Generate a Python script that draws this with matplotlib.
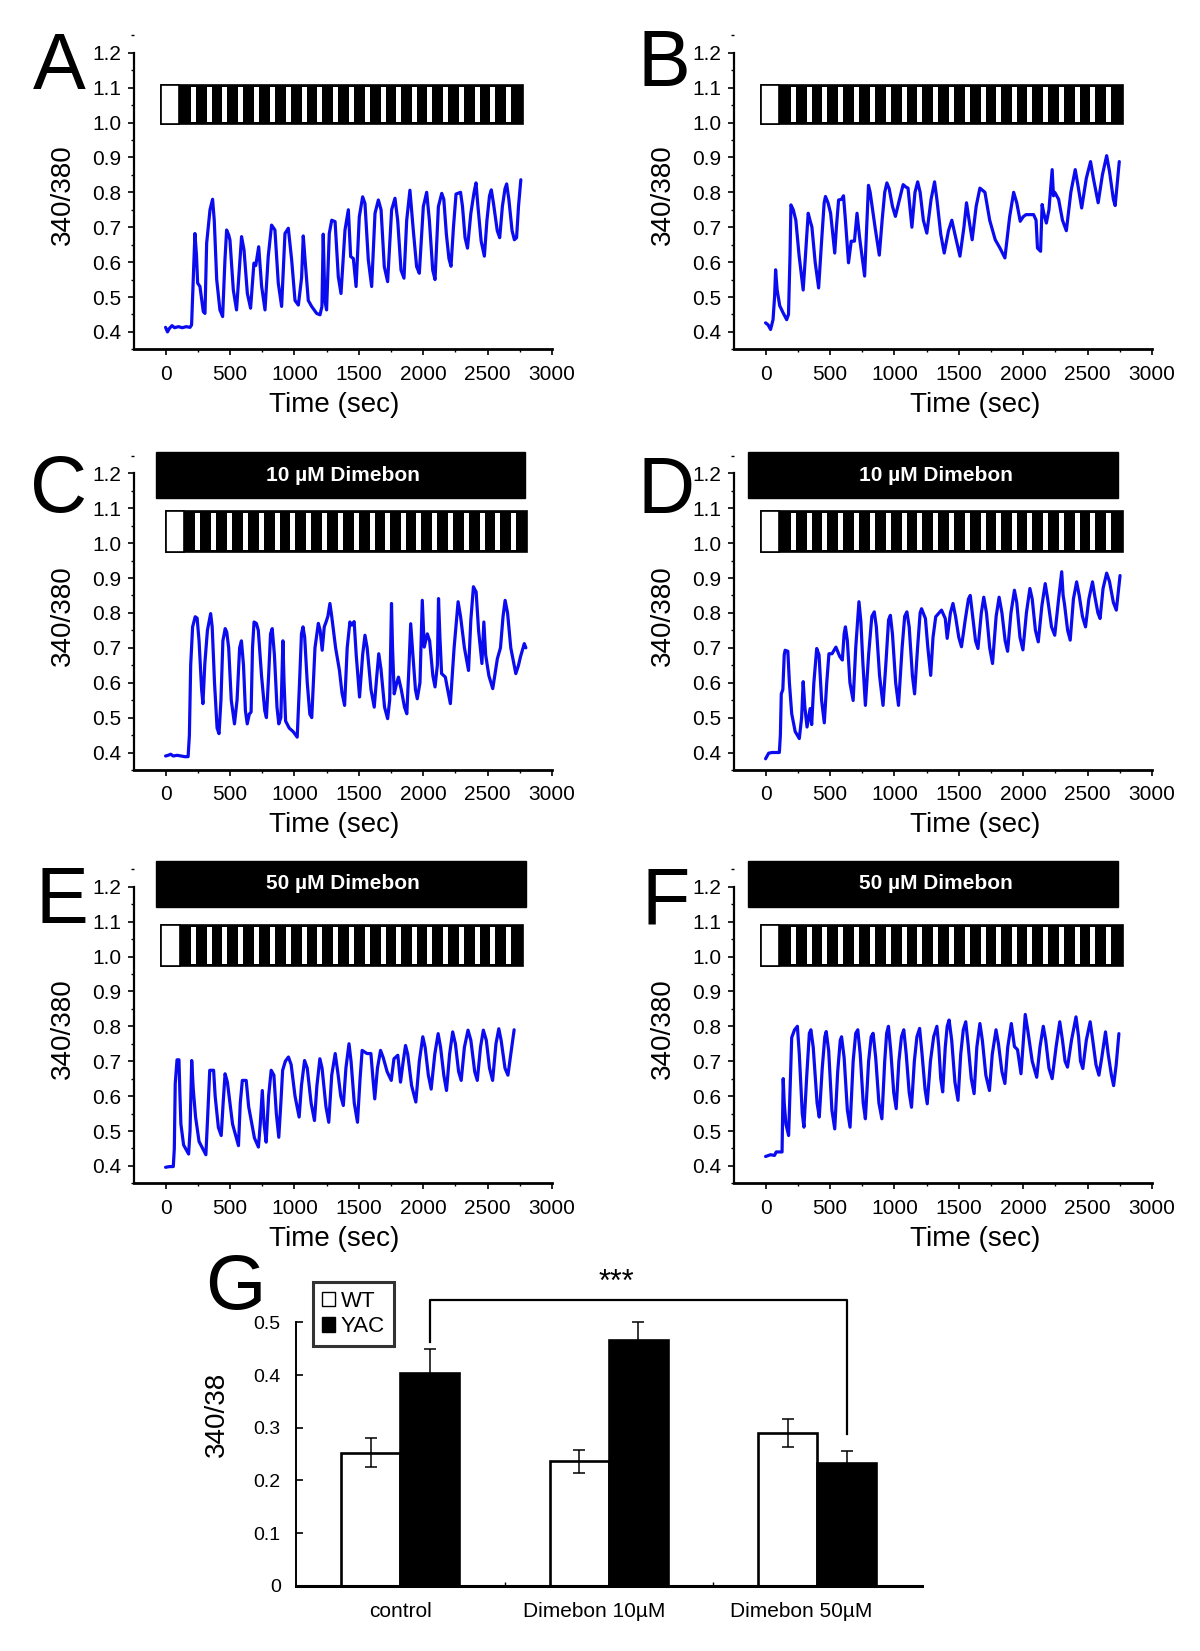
import matplotlib
matplotlib.use('Agg')
import matplotlib.pyplot as plt
from matplotlib.patches import Rectangle, Patch
from matplotlib.ticker import MultipleLocator, FormatStrFormatter

plt.rcParams['font.family'] = ['Liberation Sans', 'DejaVu Sans']

# ---------------- data (time in s, 340/380 ratio) ----------------
trace_a = [(0, .413), (15, .40), (30, .41), (50, .418), (70, .412), (100, .415), (130, .412), (160, .415),
           (190, .413), (202, .42), (215, .55), (228, .682), (240, .62), (249, .54), (267, .53), (293, .458),
           (306, .453), (319, .654), (345, .75), (365, .78), (378, .72), (397, .55), (422, .463), (443, .444),
           (461, .606), (474, .692), (490, .678), (500, .663), (526, .52), (551, .463), (572, .577), (590, .673),
           (609, .635), (635, .51), (660, .468), (686, .597), (700, .59), (723, .644), (746, .53), (772, .463),
           (797, .616), (823, .706), (849, .692), (875, .54), (901, .473), (927, .682), (953, .697), (979, .606),
           (1005, .49), (1031, .477), (1056, .555), (1069, .675), (1085, .597), (1108, .49), (1134, .473),
           (1173, .453), (1199, .449), (1214, .473), (1224, .68), (1237, .49), (1250, .463), (1271, .682),
           (1290, .72), (1316, .716), (1341, .558), (1362, .51), (1393, .692), (1419, .75), (1437, .616),
           (1458, .61), (1479, .53), (1504, .73), (1530, .787), (1548, .768), (1574, .606), (1600, .53),
           (1626, .74), (1652, .778), (1673, .75), (1698, .587), (1724, .544), (1755, .75), (1781, .783),
           (1802, .72), (1828, .577), (1851, .554), (1872, .72), (1897, .806), (1923, .692), (1949, .587),
           (1970, .568), (2001, .759), (2027, .80), (2048, .72), (2074, .577), (2092, .55), (2118, .759),
           (2144, .797), (2160, .78), (2180, .68), (2200, .61), (2216, .588), (2235, .70), (2255, .795),
           (2290, .80), (2305, .76), (2325, .67), (2344, .64), (2370, .74), (2395, .80), (2410, .827),
           (2425, .76), (2450, .66), (2475, .617), (2495, .72), (2515, .79), (2529, .807), (2545, .77),
           (2575, .69), (2594, .67), (2615, .76), (2635, .81), (2648, .824), (2665, .78), (2690, .69),
           (2708, .664), (2725, .67), (2740, .76), (2758, .836)]

trace_b = [(0, .426), (20, .42), (39, .407), (58, .435), (70, .50), (78, .578), (90, .52), (110, .475),
           (137, .454), (164, .435), (178, .45), (190, .62), (197, .764), (215, .75), (235, .72), (260, .62),
           (292, .52), (310, .62), (331, .74), (345, .72), (360, .70), (385, .60), (412, .526), (435, .66),
           (455, .77), (465, .788), (485, .77), (505, .74), (537, .626), (550, .70), (567, .778), (590, .78),
           (605, .79), (620, .72), (644, .598), (665, .66), (690, .66), (710, .74), (730, .67), (769, .56),
           (785, .70), (799, .82), (812, .80), (829, .755), (850, .70), (883, .62), (905, .72), (925, .80),
           (942, .827), (960, .81), (985, .76), (1008, .731), (1040, .78), (1068, .822), (1090, .815),
           (1106, .812), (1136, .70), (1160, .80), (1181, .83), (1200, .80), (1225, .72), (1252, .683),
           (1285, .78), (1312, .83), (1330, .78), (1360, .68), (1387, .626), (1420, .69), (1446, .72),
           (1470, .68), (1509, .617), (1540, .70), (1560, .77), (1580, .72), (1604, .664), (1635, .76),
           (1664, .812), (1703, .80), (1740, .72), (1783, .664), (1820, .64), (1858, .612), (1895, .73),
           (1926, .80), (1950, .77), (1977, .717), (2000, .73), (2022, .736), (2081, .736), (2100, .72),
           (2111, .64), (2135, .631), (2147, .765), (2160, .74), (2180, .712), (2200, .75), (2225, .865),
           (2235, .79), (2245, .80), (2275, .78), (2305, .72), (2335, .69), (2370, .80), (2404, .865),
           (2425, .82), (2454, .755), (2490, .84), (2523, .888), (2545, .84), (2582, .77), (2615, .85),
           (2648, .905), (2670, .86), (2700, .78), (2714, .762), (2746, .888)]

trace_c = [(0, .39), (20, .392), (40, .395), (60, .39), (90, .392), (120, .39), (150, .388), (175, .388),
           (185, .45), (195, .65), (210, .76), (230, .789), (245, .785), (260, .72), (280, .58), (290, .54),
           (305, .655), (325, .75), (350, .798), (362, .76), (380, .60), (400, .47), (415, .454), (430, .55),
           (445, .72), (463, .755), (475, .745), (490, .70), (510, .55), (535, .482), (555, .55), (575, .70),
           (589, .72), (605, .65), (620, .52), (634, .482), (650, .51), (664, .516), (675, .70), (687, .774),
           (705, .77), (720, .75), (745, .62), (770, .52), (783, .50), (800, .62), (815, .74), (828, .755),
           (845, .68), (865, .53), (879, .482), (895, .50), (911, .72), (920, .60), (932, .49), (960, .47),
           (990, .46), (1022, .444), (1040, .60), (1055, .74), (1067, .76), (1080, .73), (1100, .60),
           (1120, .51), (1135, .50), (1160, .70), (1186, .77), (1200, .75), (1216, .693), (1232, .76),
           (1246, .774), (1260, .79), (1276, .827), (1290, .79), (1320, .70), (1350, .635), (1370, .57),
           (1390, .535), (1410, .70), (1431, .774), (1445, .765), (1464, .775), (1480, .68), (1506, .559),
           (1530, .68), (1548, .736), (1565, .70), (1595, .58), (1620, .53), (1640, .62), (1655, .683),
           (1672, .64), (1700, .53), (1724, .497), (1740, .55), (1754, .827), (1762, .70), (1775, .568),
           (1795, .60), (1808, .616), (1830, .58), (1855, .53), (1873, .511), (1890, .65), (1903, .769),
           (1920, .68), (1940, .58), (1954, .554), (1975, .60), (1993, .836), (2008, .702), (2032, .74),
           (2050, .72), (2075, .62), (2092, .588), (2110, .65), (2119, .841), (2130, .73), (2143, .626),
           (2172, .616), (2190, .58), (2211, .54), (2240, .70), (2271, .832), (2290, .79), (2320, .70),
           (2352, .635), (2370, .78), (2390, .875), (2411, .86), (2430, .75), (2456, .655), (2471, .774),
           (2485, .68), (2510, .62), (2540, .583), (2576, .669), (2600, .70), (2620, .79), (2636, .836),
           (2655, .80), (2680, .70), (2719, .626), (2740, .65), (2755, .674), (2785, .712), (2797, .70)]

trace_d = [(0, .382), (24, .398), (50, .40), (80, .40), (107, .40), (115, .45), (122, .568), (134, .58),
           (145, .68), (152, .693), (173, .69), (185, .60), (203, .511), (230, .46), (262, .44), (280, .50),
           (292, .603), (305, .53), (322, .473), (346, .526), (358, .48), (375, .60), (397, .698), (415, .68),
           (435, .55), (456, .485), (475, .60), (492, .683), (516, .683), (546, .702), (576, .675), (596, .665),
           (610, .74), (620, .76), (635, .72), (655, .60), (680, .549), (700, .70), (725, .832), (740, .775),
           (755, .66), (775, .535), (800, .68), (825, .79), (844, .803), (860, .76), (885, .62), (912, .535),
           (935, .66), (955, .78), (969, .793), (985, .74), (1010, .60), (1032, .535), (1060, .70), (1080, .79),
           (1097, .803), (1115, .76), (1140, .62), (1157, .568), (1180, .70), (1200, .80), (1211, .812),
           (1241, .784), (1260, .70), (1282, .621), (1300, .73), (1321, .789), (1366, .808), (1395, .784),
           (1410, .727), (1435, .80), (1455, .827), (1475, .79), (1500, .73), (1521, .703), (1550, .78),
           (1575, .84), (1589, .85), (1605, .80), (1630, .72), (1649, .698), (1675, .80), (1694, .845),
           (1715, .80), (1740, .70), (1762, .655), (1790, .79), (1813, .845), (1835, .80), (1860, .72),
           (1879, .69), (1905, .80), (1932, .865), (1950, .83), (1975, .73), (1998, .694), (2025, .80),
           (2052, .87), (2070, .84), (2095, .75), (2117, .717), (2145, .82), (2171, .884), (2190, .84),
           (2220, .76), (2245, .736), (2275, .84), (2299, .918), (2310, .85), (2320, .827), (2345, .75),
           (2365, .722), (2390, .84), (2415, .889), (2435, .85), (2460, .79), (2484, .76), (2510, .84),
           (2538, .889), (2555, .85), (2580, .80), (2597, .784), (2620, .87), (2648, .914), (2670, .89),
           (2700, .83), (2723, .808), (2752, .907)]

trace_e = [(0, .396), (30, .398), (60, .398), (68, .45), (75, .635), (89, .704), (104, .704), (112, .60),
           (119, .52), (140, .46), (179, .434), (190, .50), (203, .702), (215, .62), (233, .54), (260, .47),
           (313, .432), (328, .55), (343, .674), (373, .674), (385, .60), (410, .51), (432, .487), (447, .58),
           (462, .664), (480, .64), (520, .52), (566, .458), (580, .58), (596, .645), (626, .645), (645, .57),
           (690, .48), (721, .454), (735, .52), (751, .616), (765, .52), (781, .468), (800, .60), (820, .674),
           (841, .66), (860, .55), (879, .482), (895, .58), (909, .674), (930, .70), (954, .712), (975, .69),
           (1005, .60), (1037, .54), (1055, .63), (1079, .702), (1100, .68), (1130, .58), (1156, .53),
           (1175, .63), (1198, .707), (1215, .68), (1245, .57), (1267, .525), (1290, .66), (1317, .722),
           (1340, .66), (1360, .60), (1380, .573), (1400, .68), (1424, .75), (1440, .70), (1465, .58),
           (1490, .525), (1510, .65), (1526, .731), (1564, .722), (1594, .722), (1610, .65), (1624, .592),
           (1645, .68), (1669, .731), (1690, .71), (1720, .67), (1752, .645), (1773, .707), (1803, .717),
           (1824, .64), (1845, .70), (1863, .745), (1880, .72), (1910, .63), (1943, .583), (1970, .70),
           (1997, .77), (2015, .74), (2040, .66), (2062, .62), (2090, .72), (2116, .779), (2135, .74),
           (2160, .66), (2181, .616), (2205, .72), (2229, .784), (2250, .75), (2275, .67), (2295, .645),
           (2320, .74), (2348, .789), (2370, .76), (2400, .67), (2420, .645), (2445, .74), (2467, .789),
           (2490, .76), (2515, .68), (2539, .645), (2565, .75), (2587, .793), (2605, .76), (2635, .68),
           (2658, .66), (2680, .72), (2706, .79)]

trace_f = [(0, .427), (39, .432), (69, .43), (83, .44), (128, .44), (137, .65), (145, .58), (158, .52),
           (179, .487), (190, .62), (203, .768), (225, .79), (247, .80), (262, .72), (285, .55), (298, .511),
           (320, .66), (340, .78), (352, .79), (370, .74), (400, .58), (417, .54), (440, .68), (460, .77),
           (471, .785), (490, .73), (515, .56), (537, .506), (560, .67), (580, .76), (590, .77), (610, .71),
           (635, .56), (656, .511), (680, .70), (700, .78), (716, .79), (735, .72), (758, .58), (775, .535),
           (800, .70), (820, .77), (835, .78), (855, .71), (880, .58), (903, .535), (925, .70), (940, .78),
           (954, .80), (972, .73), (995, .61), (1014, .564), (1035, .70), (1055, .77), (1073, .79),
           (1092, .72), (1115, .61), (1133, .568), (1155, .70), (1175, .77), (1196, .794), (1215, .72),
           (1238, .62), (1255, .578), (1280, .70), (1305, .77), (1330, .80), (1345, .74), (1360, .65),
           (1375, .612), (1395, .74), (1410, .80), (1425, .818), (1445, .76), (1470, .64), (1494, .588),
           (1515, .72), (1535, .79), (1554, .813), (1572, .75), (1597, .65), (1619, .607), (1640, .74),
           (1664, .808), (1683, .76), (1710, .66), (1738, .616), (1760, .72), (1789, .79), (1808, .75),
           (1835, .67), (1858, .636), (1880, .74), (1908, .808), (1932, .742), (1956, .733), (1983, .664),
           (2000, .75), (2016, .834), (2035, .79), (2070, .70), (2105, .654), (2130, .74), (2156, .80),
           (2175, .76), (2200, .68), (2225, .65), (2255, .74), (2284, .813), (2305, .76), (2325, .70),
           (2344, .683), (2375, .76), (2410, .827), (2430, .77), (2445, .70), (2463, .679), (2490, .76),
           (2520, .813), (2540, .76), (2565, .69), (2588, .66), (2610, .71), (2639, .784), (2660, .72),
           (2685, .66), (2702, .63), (2722, .69), (2743, .779)]

# stimulation protocol (white = windows in the stimulation bar)
stripe_t = [195, 320, 441, 565, 690, 811, 933, 1057, 1179, 1303, 1424, 1549, 1670, 1792, 1911,
            2032, 2157, 2278, 2402, 2521, 2643]
stripe_w = 39

drug_labels = {'C': '10 µM Dimebon', 'D': '10 µM Dimebon',
               'E': '50 µM Dimebon', 'F': '50 µM Dimebon'}

categories = ['control', 'Dimebon 10µM', 'Dimebon 50µM']
wt_mean = [0.2525, 0.236, 0.290]
wt_err = [0.028, 0.022, 0.027]
yac_mean = [0.403, 0.466, 0.2335]
yac_err = [0.047, 0.034, 0.022]

# ---------------- layout ----------------
W, H = 1200, 1651
fig = plt.figure(figsize=(W / 100, H / 100), dpi=100)


def px_axes(l, t, r, b):
    return fig.add_axes([l / W, 1 - b / H, (r - l) / W, (b - t) / H])


rows = [(24.8, 349.35), (445.4, 769.95), (858.8, 1183.35)]
cols = [(134, 552), (734, 1152)]

panels = [
    ('A', trace_a, 0, 0, (33, 89), (-35, 105, 2772, 0, 0.995, 1.107), None),
    ('B', trace_b, 0, 1, (638, 86), (-35, 105, 2772, 0, 0.995, 1.107), None),
    ('C', trace_c, 1, 0, (30, 512), (3, 145, 2808, 36, 0.974, 1.092), (-75, 2792, 1.128, 1.262)),
    ('D', trace_d, 1, 1, (638, 513), (-35, 105, 2772, 0, 0.974, 1.092), (-134, 2737, 1.128, 1.262)),
    ('E', trace_e, 2, 0, (36, 923), (-35, 110, 2775, 0, 0.973, 1.090), (-75, 2795, 1.141, 1.275)),
    ('F', trace_f, 2, 1, (641, 923), (-35, 105, 2772, 0, 0.973, 1.090), (-134, 2737, 1.141, 1.275)),
]

for key, trace, r, c, lpos, stim, drug in panels:
    top, bot = rows[r]
    left, right = cols[c]
    ax = px_axes(left, top, right, bot)
    tt = [p[0] for p in trace]
    vv = [p[1] for p in trace]
    ax.plot(tt, vv, color='#0b0bf0', lw=2.3, solid_joinstyle='round', solid_capstyle='round', zorder=3)
    ax.set_xlim(-245, 3000)
    ax.set_ylim(0.35, 1.28)
    for s in ['top', 'right']:
        ax.spines[s].set_visible(False)
    ax.spines['left'].set_bounds(0.35, 1.2)
    ax.spines['left'].set_linewidth(1.6)
    ax.spines['bottom'].set_linewidth(2.0)
    ax.xaxis.set_major_locator(MultipleLocator(500))
    ax.xaxis.set_minor_locator(MultipleLocator(250))
    ax.set_yticks([0.4, 0.5, 0.6, 0.7, 0.8, 0.9, 1.0, 1.1, 1.2])
    ax.yaxis.set_minor_locator(MultipleLocator(0.05))
    ax.yaxis.set_major_formatter(FormatStrFormatter('%.1f'))
    ax.tick_params(which='major', direction='out', length=4, width=1.2, labelsize=15)
    ax.tick_params(which='minor', direction='out', length=2.5, width=1.0)
    ax.tick_params(axis='x', pad=7)
    ax.tick_params(axis='y', pad=5)
    ax.set_xlabel('Time (sec)', fontsize=20)
    ax.set_ylabel('340/380', fontsize=20)
    ax.xaxis.set_label_coords(0.48 if c == 0 else 0.577, -0.13)
    ax.yaxis.set_label_coords(-0.14, 0.476)

    # stimulation bar
    s0, wend, s1, shift, y0, y1 = stim
    ax.add_patch(Rectangle((s0, y0), s1 - s0, y1 - y0, facecolor='black', edgecolor='black',
                           lw=1.2, clip_on=False, zorder=4))
    ax.add_patch(Rectangle((s0, y0), wend - s0, y1 - y0, facecolor='white', edgecolor='black',
                           lw=1.2, clip_on=False, zorder=5))
    for st in stripe_t:
        ax.add_patch(Rectangle((st + shift, y0 + 0.006), stripe_w, y1 - y0 - 0.012,
                               facecolor='white', edgecolor='none', clip_on=False, zorder=5))
    if drug is not None:
        d0, d1, dy0, dy1 = drug
        ax.add_patch(Rectangle((d0, dy0), d1 - d0, dy1 - dy0, facecolor='black', edgecolor='black',
                               clip_on=False, zorder=4))
        ax.text((d0 + d1) / 2 + 20, (dy0 + dy1) / 2, drug_labels[key], color='white', fontsize=15,
                fontweight='bold', ha='center', va='center', zorder=6)

    fig.text(lpos[0] / W, 1 - lpos[1] / H, key, fontsize=57, ha='left', va='baseline')

# ---------------- bar chart G ----------------
axg = px_axes(296, 1269.6, 921.5, 1585.8)
x = list(range(len(categories)))
bw = 0.283
xw = [xi - bw / 2 for xi in x]
xy = [xi + bw / 2 for xi in x]
axg.bar(xw, wt_mean, width=bw, color='white', edgecolor='black', linewidth=1.9, zorder=2)
axg.bar(xy, yac_mean, width=bw, color='black', edgecolor='black', linewidth=1.9, zorder=2)
axg.errorbar(xw, wt_mean, yerr=wt_err, fmt='none', ecolor='black', elinewidth=1.1, capsize=4,
             capthick=1.1, zorder=3)
axg.errorbar(xy, yac_mean, yerr=yac_err, fmt='none', ecolor='black', elinewidth=1.1, capsize=4,
             capthick=1.1, zorder=1)
axg.set_xlim(-0.5, 2.5)
axg.set_ylim(0, 0.6)
for s in ['top', 'right']:
    axg.spines[s].set_visible(False)
axg.spines['left'].set_bounds(0, 0.5)
axg.spines['left'].set_linewidth(1.4)
axg.spines['bottom'].set_linewidth(2.2)
axg.set_yticks([0, 0.1, 0.2, 0.3, 0.4, 0.5])
axg.set_yticklabels(['0', '0.1', '0.2', '0.3', '0.4', '0.5'])
axg.set_xticks([0, 0.932, 1.925])
axg.set_xticklabels(categories)
axg.set_xticks([0.5, 1.5], minor=True)
axg.tick_params(axis='x', which='major', length=0, pad=12, labelsize=15)
axg.tick_params(axis='x', which='minor', direction='in', length=3, width=1)
axg.tick_params(axis='y', direction='in', length=5, width=1.2, pad=11, labelsize=14)
axg.set_ylabel('340/38', fontsize=20)
axg.yaxis.set_label_coords(-0.105, 0.543)

# significance bracket
bx0, bx1 = xy[0], xy[2]
axg.plot([bx0, bx0, bx1, bx1], [0.463, 0.542, 0.542, 0.2875], color='black', lw=1.6,
         clip_on=False, zorder=4)
axg.text(1.035, 0.575, '***', fontsize=22, ha='center', va='center')

leg = axg.legend(handles=[Patch(facecolor='white', edgecolor='black', linewidth=1.0, label='WT'),
                          Patch(facecolor='black', edgecolor='black', label='YAC')],
                 loc='upper left', bbox_to_anchor=(313 / W, 1 - 1282 / H),
                 bbox_transform=fig.transFigure, fontsize=16, frameon=True, fancybox=False,
                 handlelength=0.6, handleheight=0.6, handletextpad=0.25, labelspacing=0.2,
                 borderpad=0.4, borderaxespad=0)
leg.get_frame().set_edgecolor('black')
leg.get_frame().set_linewidth(2.2)

fig.text(205 / W, 1 - 1309 / H, 'G', fontsize=56, ha='left', va='baseline')

fig.savefig('out.png', dpi=100)
